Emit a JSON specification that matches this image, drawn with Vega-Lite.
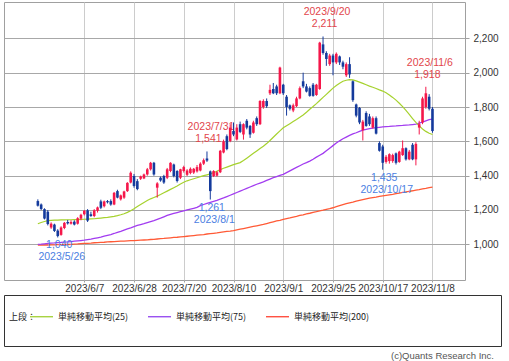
{
"$schema": "https://vega.github.io/schema/vega-lite/v6.json",
"padding": {"left": 3, "top": 1, "right": 0, "bottom": 0},
"background": "white",
"spacing": 0,
"config": {"font": "Liberation Sans", "axis": {"labelFont": "Liberation Sans", "labelFontSize": 10, "labelColor": "#333333", "gridWidth": 1, "tickColor": "#a0a0a0"}},
"resolve": {"scale": {"color": "independent"}, "legend": {"color": "independent"}},
"datasets": {
"p": [
{"i":0,"o":1252,"h":1262,"l":1220,"c":1225,"m25":1120,"m75":1000,"m200":995},
{"i":1,"o":1232,"h":1238,"l":1200,"c":1206,"m25":1127,"m75":1001,"m200":995},
{"i":2,"o":1205,"h":1210,"l":1145,"c":1150,"m25":1133,"m75":1003,"m200":996},
{"i":3,"o":1190,"h":1200,"l":1110,"c":1118,"m25":1138,"m75":1005,"m200":996},
{"i":4,"o":1098,"h":1128,"l":1090,"c":1120,"m25":1140,"m75":1007,"m200":997},
{"i":5,"o":1115,"h":1120,"l":1072,"c":1078,"m25":1141,"m75":1008,"m200":997},
{"i":6,"o":1080,"h":1088,"l":1040,"c":1048,"m25":1141,"m75":1010,"m200":998},
{"i":7,"o":1055,"h":1105,"l":1050,"c":1098,"m25":1142,"m75":1011,"m200":998},
{"i":8,"o":1095,"h":1130,"l":1088,"c":1125,"m25":1142,"m75":1013,"m200":999},
{"i":9,"o":1130,"h":1142,"l":1115,"c":1122,"m25":1143,"m75":1014,"m200":999},
{"i":10,"o":1120,"h":1140,"l":1115,"c":1130,"m25":1143,"m75":1016,"m200":1000},
{"i":11,"o":1132,"h":1140,"l":1110,"c":1115,"m25":1144,"m75":1018,"m200":1001},
{"i":12,"o":1120,"h":1158,"l":1115,"c":1152,"m25":1144,"m75":1020,"m200":1002},
{"i":13,"o":1150,"h":1178,"l":1140,"c":1172,"m25":1145,"m75":1022,"m200":1004},
{"i":14,"o":1175,"h":1200,"l":1168,"c":1195,"m25":1146,"m75":1024,"m200":1005},
{"i":15,"o":1198,"h":1205,"l":1130,"c":1138,"m25":1147,"m75":1027,"m200":1006},
{"i":16,"o":1175,"h":1190,"l":1160,"c":1165,"m25":1148,"m75":1030,"m200":1007},
{"i":17,"o":1165,"h":1205,"l":1158,"c":1198,"m25":1149,"m75":1034,"m200":1009},
{"i":18,"o":1195,"h":1220,"l":1185,"c":1215,"m25":1151,"m75":1038,"m200":1010},
{"i":19,"o":1250,"h":1260,"l":1205,"c":1213,"m25":1153,"m75":1042,"m200":1011},
{"i":20,"o":1222,"h":1255,"l":1215,"c":1250,"m25":1155,"m75":1047,"m200":1012},
{"i":21,"o":1252,"h":1258,"l":1238,"c":1245,"m25":1157,"m75":1052,"m200":1014},
{"i":22,"o":1252,"h":1262,"l":1225,"c":1232,"m25":1160,"m75":1057,"m200":1015},
{"i":23,"o":1232,"h":1305,"l":1228,"c":1300,"m25":1163,"m75":1063,"m200":1016},
{"i":24,"o":1310,"h":1318,"l":1268,"c":1272,"m25":1167,"m75":1070,"m200":1017},
{"i":25,"o":1262,"h":1290,"l":1255,"c":1285,"m25":1172,"m75":1076,"m200":1018},
{"i":26,"o":1272,"h":1312,"l":1265,"c":1308,"m25":1178,"m75":1083,"m200":1019},
{"i":27,"o":1310,"h":1362,"l":1305,"c":1358,"m25":1186,"m75":1090,"m200":1020},
{"i":28,"o":1360,"h":1425,"l":1355,"c":1417,"m25":1196,"m75":1096,"m200":1021},
{"i":29,"o":1398,"h":1410,"l":1330,"c":1340,"m25":1207,"m75":1103,"m200":1022},
{"i":30,"o":1368,"h":1380,"l":1315,"c":1322,"m25":1220,"m75":1110,"m200":1023},
{"i":31,"o":1382,"h":1400,"l":1375,"c":1395,"m25":1232,"m75":1115,"m200":1024},
{"i":32,"o":1384,"h":1412,"l":1380,"c":1407,"m25":1244,"m75":1120,"m200":1025},
{"i":33,"o":1407,"h":1445,"l":1400,"c":1437,"m25":1255,"m75":1126,"m200":1026},
{"i":34,"o":1437,"h":1480,"l":1430,"c":1475,"m25":1265,"m75":1132,"m200":1028},
{"i":35,"o":1475,"h":1480,"l":1400,"c":1407,"m25":1273,"m75":1138,"m200":1029},
{"i":36,"o":1330,"h":1362,"l":1272,"c":1355,"m25":1281,"m75":1145,"m200":1031},
{"i":37,"o":1388,"h":1395,"l":1365,"c":1372,"m25":1290,"m75":1152,"m200":1033},
{"i":38,"o":1398,"h":1405,"l":1352,"c":1360,"m25":1300,"m75":1160,"m200":1034},
{"i":39,"o":1388,"h":1445,"l":1380,"c":1437,"m25":1310,"m75":1168,"m200":1036},
{"i":40,"o":1427,"h":1478,"l":1420,"c":1475,"m25":1320,"m75":1175,"m200":1038},
{"i":41,"o":1465,"h":1470,"l":1390,"c":1398,"m25":1330,"m75":1180,"m200":1040},
{"i":42,"o":1427,"h":1432,"l":1360,"c":1369,"m25":1340,"m75":1185,"m200":1041},
{"i":43,"o":1388,"h":1440,"l":1380,"c":1437,"m25":1352,"m75":1190,"m200":1043},
{"i":44,"o":1427,"h":1458,"l":1418,"c":1450,"m25":1362,"m75":1195,"m200":1045},
{"i":45,"o":1405,"h":1438,"l":1398,"c":1430,"m25":1370,"m75":1200,"m200":1047},
{"i":46,"o":1415,"h":1448,"l":1408,"c":1440,"m25":1376,"m75":1205,"m200":1049},
{"i":47,"o":1418,"h":1445,"l":1410,"c":1440,"m25":1382,"m75":1210,"m200":1051},
{"i":48,"o":1425,"h":1462,"l":1418,"c":1450,"m25":1388,"m75":1215,"m200":1053},
{"i":49,"o":1430,"h":1478,"l":1425,"c":1470,"m25":1394,"m75":1225,"m200":1055},
{"i":50,"o":1470,"h":1500,"l":1462,"c":1490,"m25":1400,"m75":1232,"m200":1057},
{"i":51,"o":1500,"h":1541,"l":1480,"c":1488,"m25":1405,"m75":1238,"m200":1060},
{"i":52,"o":1425,"h":1430,"l":1261,"c":1310,"m25":1410,"m75":1244,"m200":1062},
{"i":53,"o":1398,"h":1432,"l":1392,"c":1427,"m25":1418,"m75":1250,"m200":1064},
{"i":54,"o":1400,"h":1428,"l":1395,"c":1420,"m25":1426,"m75":1256,"m200":1066},
{"i":55,"o":1420,"h":1550,"l":1415,"c":1545,"m25":1435,"m75":1263,"m200":1069},
{"i":56,"o":1535,"h":1610,"l":1530,"c":1600,"m25":1443,"m75":1270,"m200":1072},
{"i":57,"o":1630,"h":1640,"l":1548,"c":1555,"m25":1450,"m75":1278,"m200":1075},
{"i":58,"o":1602,"h":1700,"l":1595,"c":1680,"m25":1457,"m75":1286,"m200":1077},
{"i":59,"o":1660,"h":1710,"l":1630,"c":1640,"m25":1464,"m75":1294,"m200":1080},
{"i":60,"o":1611,"h":1700,"l":1605,"c":1680,"m25":1470,"m75":1302,"m200":1084},
{"i":61,"o":1700,"h":1715,"l":1648,"c":1655,"m25":1476,"m75":1310,"m200":1088},
{"i":62,"o":1640,"h":1705,"l":1610,"c":1700,"m25":1488,"m75":1318,"m200":1092},
{"i":63,"o":1720,"h":1730,"l":1670,"c":1680,"m25":1502,"m75":1326,"m200":1096},
{"i":64,"o":1690,"h":1695,"l":1620,"c":1640,"m25":1516,"m75":1334,"m200":1100},
{"i":65,"o":1650,"h":1720,"l":1645,"c":1710,"m25":1530,"m75":1342,"m200":1104},
{"i":66,"o":1735,"h":1745,"l":1690,"c":1700,"m25":1544,"m75":1350,"m200":1108},
{"i":67,"o":1700,"h":1840,"l":1695,"c":1835,"m25":1558,"m75":1357,"m200":1112},
{"i":68,"o":1800,"h":1845,"l":1790,"c":1835,"m25":1572,"m75":1364,"m200":1116},
{"i":69,"o":1835,"h":1850,"l":1795,"c":1805,"m25":1587,"m75":1372,"m200":1121},
{"i":70,"o":1880,"h":1930,"l":1870,"c":1900,"m25":1605,"m75":1380,"m200":1126},
{"i":71,"o":1905,"h":1940,"l":1875,"c":1880,"m25":1624,"m75":1388,"m200":1131},
{"i":72,"o":1920,"h":1930,"l":1870,"c":1880,"m25":1643,"m75":1395,"m200":1136},
{"i":73,"o":1880,"h":2035,"l":1875,"c":2030,"m25":1661,"m75":1402,"m200":1140},
{"i":74,"o":1930,"h":1935,"l":1870,"c":1880,"m25":1679,"m75":1408,"m200":1145},
{"i":75,"o":1860,"h":1870,"l":1750,"c":1800,"m25":1691,"m75":1418,"m200":1150},
{"i":76,"o":1810,"h":1815,"l":1780,"c":1790,"m25":1703,"m75":1428,"m200":1154},
{"i":77,"o":1780,"h":1820,"l":1770,"c":1810,"m25":1715,"m75":1438,"m200":1159},
{"i":78,"o":1805,"h":1860,"l":1800,"c":1850,"m25":1727,"m75":1448,"m200":1163},
{"i":79,"o":1850,"h":1920,"l":1845,"c":1910,"m25":1740,"m75":1458,"m200":1168},
{"i":80,"o":1950,"h":2000,"l":1910,"c":1920,"m25":1754,"m75":1468,"m200":1172},
{"i":81,"o":1920,"h":1935,"l":1885,"c":1890,"m25":1770,"m75":1476,"m200":1177},
{"i":82,"o":1910,"h":1920,"l":1860,"c":1865,"m25":1787,"m75":1485,"m200":1181},
{"i":83,"o":1930,"h":1940,"l":1860,"c":1865,"m25":1803,"m75":1496,"m200":1186},
{"i":84,"o":1870,"h":1935,"l":1865,"c":1930,"m25":1820,"m75":1508,"m200":1190},
{"i":85,"o":1905,"h":2180,"l":1900,"c":2175,"m25":1838,"m75":1519,"m200":1195},
{"i":86,"o":2165,"h":2211,"l":2105,"c":2115,"m25":1856,"m75":1530,"m200":1199},
{"i":87,"o":2115,"h":2125,"l":2040,"c":2080,"m25":1874,"m75":1545,"m200":1204},
{"i":88,"o":2050,"h":2110,"l":2040,"c":2100,"m25":1892,"m75":1560,"m200":1208},
{"i":89,"o":2100,"h":2110,"l":1985,"c":2060,"m25":1910,"m75":1575,"m200":1213},
{"i":90,"o":2060,"h":2118,"l":2050,"c":2110,"m25":1925,"m75":1590,"m200":1219},
{"i":91,"o":2095,"h":2100,"l":2045,"c":2060,"m25":1938,"m75":1603,"m200":1225},
{"i":92,"o":2060,"h":2070,"l":2020,"c":2035,"m25":1950,"m75":1615,"m200":1231},
{"i":93,"o":1985,"h":2060,"l":1975,"c":2050,"m25":1956,"m75":1625,"m200":1237},
{"i":94,"o":2050,"h":2090,"l":1970,"c":1990,"m25":1960,"m75":1635,"m200":1242},
{"i":95,"o":1950,"h":1955,"l":1830,"c":1840,"m25":1958,"m75":1643,"m200":1246},
{"i":96,"o":1815,"h":1820,"l":1740,"c":1750,"m25":1952,"m75":1650,"m200":1251},
{"i":97,"o":1795,"h":1800,"l":1700,"c":1710,"m25":1945,"m75":1658,"m200":1256},
{"i":98,"o":1665,"h":1725,"l":1605,"c":1715,"m25":1938,"m75":1665,"m200":1261},
{"i":99,"o":1765,"h":1775,"l":1685,"c":1690,"m25":1930,"m75":1670,"m200":1265},
{"i":100,"o":1745,"h":1760,"l":1690,"c":1700,"m25":1922,"m75":1674,"m200":1269},
{"i":101,"o":1680,"h":1745,"l":1675,"c":1735,"m25":1915,"m75":1677,"m200":1272},
{"i":102,"o":1735,"h":1745,"l":1640,"c":1645,"m25":1908,"m75":1680,"m200":1275},
{"i":103,"o":1590,"h":1600,"l":1540,"c":1545,"m25":1900,"m75":1682,"m200":1279},
{"i":104,"o":1570,"h":1580,"l":1435,"c":1475,"m25":1893,"m75":1684,"m200":1282},
{"i":105,"o":1480,"h":1520,"l":1470,"c":1510,"m25":1883,"m75":1686,"m200":1285},
{"i":106,"o":1485,"h":1530,"l":1470,"c":1525,"m25":1870,"m75":1687,"m200":1288},
{"i":107,"o":1485,"h":1528,"l":1475,"c":1520,"m25":1856,"m75":1689,"m200":1291},
{"i":108,"o":1530,"h":1535,"l":1465,"c":1475,"m25":1840,"m75":1690,"m200":1295},
{"i":109,"o":1480,"h":1545,"l":1475,"c":1540,"m25":1822,"m75":1692,"m200":1298},
{"i":110,"o":1520,"h":1605,"l":1515,"c":1560,"m25":1802,"m75":1693,"m200":1302},
{"i":111,"o":1560,"h":1565,"l":1488,"c":1495,"m25":1780,"m75":1695,"m200":1305},
{"i":112,"o":1495,"h":1550,"l":1490,"c":1540,"m25":1757,"m75":1696,"m200":1309},
{"i":113,"o":1580,"h":1590,"l":1490,"c":1495,"m25":1733,"m75":1698,"m200":1312},
{"i":114,"o":1495,"h":1595,"l":1460,"c":1585,"m25":1710,"m75":1700,"m200":1316},
{"i":115,"o":1680,"h":1720,"l":1640,"c":1700,"m25":1690,"m75":1706,"m200":1319},
{"i":116,"o":1710,"h":1860,"l":1700,"c":1850,"m25":1672,"m75":1712,"m200":1323},
{"i":117,"o":1800,"h":1918,"l":1790,"c":1880,"m25":1658,"m75":1719,"m200":1326},
{"i":118,"o":1860,"h":1875,"l":1780,"c":1790,"m25":1647,"m75":1726,"m200":1330},
{"i":119,"o":1790,"h":1800,"l":1650,"c":1660,"m25":1640,"m75":1730,"m200":1333}
],
"ann": [
{"i":86,"v":2211,"d":"2023/9/20","k":"hi"},
{"i":51,"v":1541,"d":"2023/7/31","k":"hi"},
{"i":117,"v":1918,"d":"2023/11/6","k":"hi"},
{"i":6,"v":1040,"d":"2023/5/26","k":"lo"},
{"i":52,"v":1261,"d":"2023/8/1","k":"lo"},
{"i":104,"v":1435,"d":"2023/10/17","k":"lo"}
],
"leg": [
{"s":"単純移動平均(25)"},
{"s":"単純移動平均(75)"},
{"s":"単純移動平均(200)"}
]
},
"vconcat": [
{
"width": 461,
"height": 278,
"view": {"stroke": "#a0a0a0"},
"data": {"name": "p"},
"encoding": {
"x": {"field": "i", "type": "quantitative", "scale": {"domain": [-8.7, 127.3], "nice": false, "zero": false},
"axis": {"values": [14,29,44,59,74,89,104,119], "labelExpr": "['2023/6/7','2023/6/28','2023/7/20','2023/8/10','2023/9/1','2023/9/25','2023/10/17','2023/11/8'][indexof([14,29,44,59,74,89,104,119], datum.value)]", "grid": true, "gridColor": "#cccccc", "title": null, "labelPadding": 1, "tickSize": 2, "labelOverlap": false, "labelFlush": false, "domain": false}}
},
"layer": [
{"mark": {"type": "line", "color": "#ff5a36", "strokeWidth": 1.3},
 "encoding": {"y": {"field": "m200", "type": "quantitative", "scale": {"domain": [792, 2412], "nice": false, "zero": false},
   "axis": {"orient": "right", "values": [1000,1200,1400,1600,1800,2000,2200], "format": ",d", "grid": true, "gridColor": "#a8a8a8", "title": null, "labelPadding": 4, "tickSize": 4, "domain": false}}}},
{"mark": {"type": "line", "color": "#a23cf0", "strokeWidth": 1.3},
 "encoding": {"y": {"field": "m75", "type": "quantitative", "scale": {"domain": [792, 2412], "nice": false, "zero": false},
   "axis": {"orient": "right", "values": [1000,1200,1400,1600,1800,2000,2200], "format": ",d", "grid": true, "gridColor": "#a8a8a8", "title": null, "labelPadding": 4, "tickSize": 4, "domain": false}}}},
{"mark": {"type": "line", "color": "#a6d22e", "strokeWidth": 1.2},
 "encoding": {"y": {"field": "m25", "type": "quantitative", "scale": {"domain": [792, 2412], "nice": false, "zero": false},
   "axis": {"orient": "right", "values": [1000,1200,1400,1600,1800,2000,2200], "format": ",d", "grid": true, "gridColor": "#a8a8a8", "title": null, "labelPadding": 4, "tickSize": 4, "domain": false}}}},
{"data": {"name": "ann"}, "transform": [{"filter": "datum.k == 'hi'"}],
 "mark": {"type": "text", "dy": -24, "dx": 4, "fontSize": 10.5, "color": "#e2464b", "baseline": "middle"},
 "encoding": {"y": {"field": "v", "type": "quantitative", "scale": {"domain": [792, 2412], "nice": false, "zero": false},
   "axis": {"orient": "right", "values": [1000,1200,1400,1600,1800,2000,2200], "format": ",d", "grid": true, "gridColor": "#a8a8a8", "title": null, "labelPadding": 4, "tickSize": 4, "domain": false}}, "text": {"field": "d"}}},
{"data": {"name": "ann"}, "transform": [{"filter": "datum.k == 'hi'"}],
 "mark": {"type": "text", "dy": -12, "dx": 1.5, "fontSize": 10.5, "color": "#e2464b", "baseline": "middle"},
 "encoding": {"y": {"field": "v", "type": "quantitative", "scale": {"domain": [792, 2412], "nice": false, "zero": false},
   "axis": {"orient": "right", "values": [1000,1200,1400,1600,1800,2000,2200], "format": ",d", "grid": true, "gridColor": "#a8a8a8", "title": null, "labelPadding": 4, "tickSize": 4, "domain": false}}, "text": {"field": "v", "type": "quantitative", "format": ",d"}}},
{"data": {"name": "ann"}, "transform": [{"filter": "datum.k == 'lo'"}],
 "mark": {"type": "text", "dy": 8, "dx": 1.5, "fontSize": 10.5, "color": "#4b80e2", "baseline": "middle"},
 "encoding": {"y": {"field": "v", "type": "quantitative", "scale": {"domain": [792, 2412], "nice": false, "zero": false},
   "axis": {"orient": "right", "values": [1000,1200,1400,1600,1800,2000,2200], "format": ",d", "grid": true, "gridColor": "#a8a8a8", "title": null, "labelPadding": 4, "tickSize": 4, "domain": false}}, "text": {"field": "v", "type": "quantitative", "format": ",d"}}},
{"data": {"name": "ann"}, "transform": [{"filter": "datum.k == 'lo'"}],
 "mark": {"type": "text", "dy": 20, "dx": 4, "fontSize": 10.5, "color": "#4b80e2", "baseline": "middle"},
 "encoding": {"y": {"field": "v", "type": "quantitative", "scale": {"domain": [792, 2412], "nice": false, "zero": false},
   "axis": {"orient": "right", "values": [1000,1200,1400,1600,1800,2000,2200], "format": ",d", "grid": true, "gridColor": "#a8a8a8", "title": null, "labelPadding": 4, "tickSize": 4, "domain": false}}, "text": {"field": "d"}}},
{"mark": {"type": "rule", "strokeWidth": 1},
 "encoding": {
  "y": {"field": "l", "type": "quantitative", "scale": {"domain": [792, 2412], "nice": false, "zero": false},
        "axis": {"orient": "right", "values": [1000,1200,1400,1600,1800,2000,2200], "format": ",d", "grid": true, "gridColor": "#a8a8a8", "title": null, "labelPadding": 4, "tickSize": 4, "domain": false}},
  "y2": {"field": "h"},
  "color": {"condition": {"test": "datum.c >= datum.o", "value": "#f5174a"}, "value": "#143a9c"}}},
{"mark": {"type": "bar", "size": 2.6},
 "encoding": {
  "y": {"field": "o", "type": "quantitative", "scale": {"domain": [792, 2412], "nice": false, "zero": false},
        "axis": {"orient": "right", "values": [1000,1200,1400,1600,1800,2000,2200], "format": ",d", "grid": true, "gridColor": "#a8a8a8", "title": null, "labelPadding": 4, "tickSize": 4, "domain": false}},
  "y2": {"field": "c"},
  "color": {"condition": {"test": "datum.c >= datum.o", "value": "#f5174a"}, "value": "#143a9c"}}}
]
},
{
"width": 497,
"height": 51,
"view": {"stroke": "#333333"},
"data": {"name": "leg"},
"mark": {"type": "line", "strokeWidth": 1.2},
"encoding": {
"color": {"field": "s", "type": "nominal", "sort": null,
 "scale": {"domain": ["単純移動平均(25)", "単純移動平均(75)", "単純移動平均(200)"], "range": ["#99cc22", "#8833ee", "#ff3322"]},
 "legend": {"title": "上段：", "orient": "none", "legendX": 5, "legendY": 9, "direction": "horizontal", "titleOrient": "left", "titleAnchor": "middle", "titleBaseline": "top",
  "titleFont": "Noto Sans CJK JP", "titleFontSize": 9, "titleFontWeight": "normal", "titleColor": "#222222", "titlePadding": -8,
  "labelFont": "Noto Sans CJK JP", "labelFontSize": 9, "labelColor": "#222222", "labelOffset": 4, "columnPadding": 16,
  "symbolType": "stroke", "symbolSize": 529, "symbolStrokeWidth": 1.2, "padding": 0}}
},
"title": {"text": "(c)Quants Research Inc.", "orient": "bottom", "anchor": "end", "font": "Liberation Sans", "fontSize": 9.5, "fontWeight": "normal", "color": "#555555", "offset": 5, "dx": -7}
}
]
}
